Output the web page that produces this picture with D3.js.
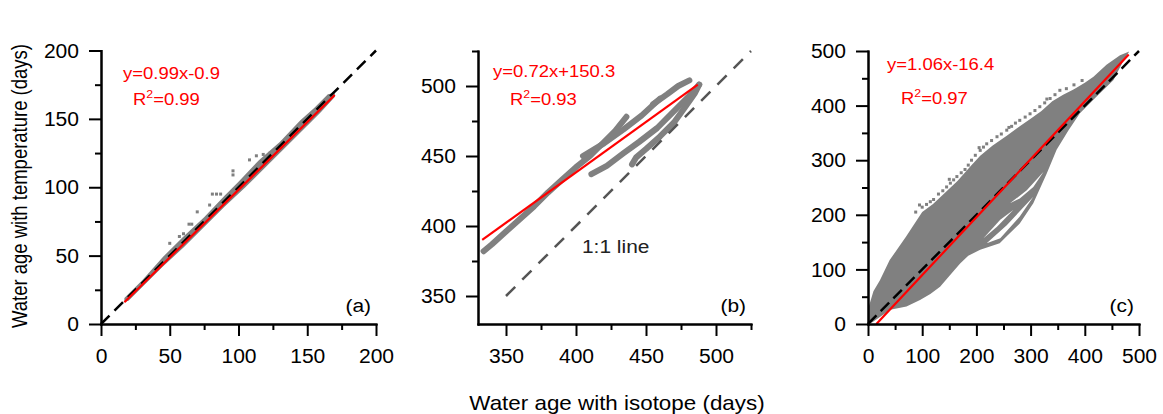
<!DOCTYPE html>
<html>
<head>
<script src="https://d3js.org/d3.v7.min.js"></script>
<style>
  body { margin: 0; background: #fff; }
  text { font-family: "Liberation Sans", Arial, sans-serif; }
</style>
</head>
<body>
<svg id="chart" width="1163" height="414"></svg>
<script>
// ---- data ----
// panel (a): scatter band (upper and lower edge) and stray points
const bandA_upper = [[17,19],[30,32],[45,49],[60,64],[75,78],[90,94],[100,104],[115,120],[130,133],[145,149],[155,158],[165,168],[170,169]];
const bandA_lower = [[170,166],[160,155],[150,145],[135,130],[120,115],[105,100],[90,86],[75,71],[60,56],[45,42],[30,27],[20,17],[17,16]];
const outliersA = [[96,112],[96,109],[108,120],[113,123],[118,124],[81,95],[84,95],[87,95],[79,87],[70,82],[64,73],[66,73],[50,59],[57,64],[60,66],[123,125]];

// panel (b): streaks of points
const streaksB = [
  [[334,382],[340,387],[350,396],[360,405],[370,414],[380,424],[390,433],[400,442],[410,450],[420,460],[428,468],[436,478]],
  [[405,450],[420,459],[434,469],[447,479],[460,491]],
  [[455,487],[465,494],[473,500],[481,504]],
  [[411,437],[422,443],[434,452],[445,460],[458,470],[470,482],[480,492],[488,501]],
  [[440,444],[443,449],[450,455],[460,464],[470,474],[478,485],[485,495],[488,501]]
];

// panel (c): cloud outline, white gaps, scattered points on the upper edge
const cloudC_upper = [[0,0],[1,30],[10,60],[22,80],[40,117],[70,160],[100,205],[120,220],[145,243],[165,262],[190,290],[207,308],[230,327],[256,345],[280,362],[300,376],[320,390],[340,408],[360,420],[380,430],[400,442],[416,453],[440,475],[465,492],[482,499]];
const cloudC_lower = [[482,499],[470,480],[453,447],[420,415],[391,386],[370,355],[348,319],[330,276],[305,221],[280,184],[255,160],[243,148],[207,136],[185,125],[170,111],[150,88],[133,68],[115,55],[96,44],[71,32],[41,26],[22,13],[8,3],[0,0]];
const holesC = [
  [[219,148],[256,181],[305,233],[280,197],[244,157]],
  [[262,221],[293,245],[324,279],[305,251],[280,230]],
  [[213,157],[244,191],[268,209],[238,178]]
];
const speckC = [[100,214],[108,219],[115,224],[121,228],[130,238],[138,244],[145,251],[152,258],[158,264],[164,270],[172,277],[179,283],[185,291],[191,300],[198,309],[207,318],[213,324],[219,330],[228,336],[238,343],[246,348],[256,355],[265,362],[272,368],[280,373],[290,379],[299,385],[308,391],[317,398],[326,405],[336,413],[345,420],[354,428],[366,431],[380,438],[395,446],
  [95,218],[88,205],[150,265],[205,323],[260,360],[330,412]];

// fitted lines (from the printed equations) and their x extent
const fitA = {slope: 0.99, icpt: -0.9, x: [17, 170]};
const fitB = {slope: 0.72, icpt: 150.3, x: [333, 487]};
const fitC = {slope: 1.06, icpt: -16.4, x: [15.5, 481]};

// axis ticks
const ticksA = [0, 50, 100, 150, 200], minorA = [25, 75, 125, 175];
const ticksB = [350, 400, 450, 500], minorB = [375, 425, 475, 525];
const ticksC = [0, 100, 200, 300, 400, 500], minorC = [50, 150, 250, 350, 450];

// ---- drawing ----
const S = 1.1; // the figure's text is a bit wider than Arial
const svg = d3.select("#chart");

const panels = [
  {id: "a", dom: [0, 200], xr: [101, 376], yr: [324, 50.5], ticks: ticksA, minor: minorA, fit: fitA,
   oneLine: [0, 200], dash: "#000", dashArr: "12,7", eq: "y=0.99x-0.9", r2: "0.99",
   eqPos: [22, 79], r2Pos: [32, 105]},
  {id: "b", dom: [330, 525], xr: [478, 751], yr: [324, 51], ticks: ticksB, minor: minorB, fit: fitB,
   oneLine: [350, 525], dash: "#555", dashArr: "13,10", eq: "y=0.72x+150.3", r2: "0.93",
   eqPos: [15, 77], r2Pos: [32, 105]},
  {id: "c", dom: [0, 500], xr: [868, 1139], yr: [324, 51], ticks: ticksC, minor: minorC, fit: fitC,
   oneLine: [0, 500], dash: "#000", dashArr: "12,6", eq: "y=1.06x-16.4", r2: "0.97",
   eqPos: [19, 70], r2Pos: [33, 104]}
];

panels.forEach(p => {
  const x = d3.scaleLinear().domain(p.dom).range(p.xr);
  const y = d3.scaleLinear().domain(p.dom).range(p.yr);
  const g = svg.append("g");
  const line = d3.line().x(d => x(d[0])).y(d => y(d[1]));

  // points
  if (p.id === "a") {
    g.append("path").attr("d", line(bandA_upper.concat(bandA_lower)) + "Z").attr("fill", "#808080");
    g.selectAll("rect.o").data(outliersA).join("rect")
      .attr("x", d => x(d[0]) - 1.5).attr("y", d => y(d[1]) - 1.5)
      .attr("width", 3).attr("height", 3).attr("fill", "#808080");
  }
  if (p.id === "b") {
    streaksB.forEach(s => {
      g.append("path").attr("d", line(s)).attr("fill", "none").attr("stroke", "#808080")
        .attr("stroke-width", 6).attr("stroke-linecap", "round").attr("stroke-linejoin", "round");
    });
  }
  if (p.id === "c") {
    g.append("path").attr("d", line(cloudC_upper.concat(cloudC_lower)) + "Z").attr("fill", "#808080");
    holesC.forEach(h => g.append("path").attr("d", line(h) + "Z").attr("fill", "#fff"));
    g.selectAll("rect.s").data(speckC).join("rect")
      .attr("x", d => x(d[0]) - 1.5).attr("y", d => y(d[1]) - 1.5)
      .attr("width", 3).attr("height", 3).attr("fill", "#808080");
  }

  // 1:1 line
  g.append("line")
    .attr("x1", x(p.oneLine[0])).attr("y1", y(p.oneLine[0]))
    .attr("x2", x(p.oneLine[1])).attr("y2", y(p.oneLine[1]))
    .attr("stroke", p.dash).attr("stroke-width", 2.5).attr("stroke-dasharray", p.dashArr);

  // regression line
  const f = p.fit;
  g.append("line")
    .attr("x1", x(f.x[0])).attr("y1", y(f.slope * f.x[0] + f.icpt))
    .attr("x2", x(f.x[1])).attr("y2", y(f.slope * f.x[1] + f.icpt))
    .attr("stroke", "#f00").attr("stroke-width", 2.2);

  // axes
  const ax = g.append("g").attr("transform", `translate(0,${p.yr[0]})`);
  ax.call(d3.axisBottom(x).tickValues(p.minor).tickSize(6).tickSizeOuter(0).tickFormat(""));
  ax.append("g").call(d3.axisBottom(x).tickValues(p.ticks).tickSize(12).tickSizeOuter(0));
  const ay = g.append("g").attr("transform", `translate(${p.xr[0]},0)`);
  ay.call(d3.axisLeft(y).tickValues(p.minor).tickSize(6).tickSizeOuter(0).tickFormat(""));
  ay.append("g").call(d3.axisLeft(y).tickValues(p.ticks).tickSize(12).tickSizeOuter(0));

  g.selectAll(".domain, .tick line").attr("stroke", "#000").attr("stroke-width", 2);
  g.selectAll(".domain").attr("stroke-linecap", "square");
  ax.selectAll("text").attr("font-size", 19.5).attr("fill", "#000")
    .attr("y", 25).attr("dy", "0.71em").attr("transform", "scale(1.08,1)");
  ay.selectAll("text").attr("font-size", 19.5).attr("fill", "#000")
    .attr("x", -22 / 1.08).attr("dy", "0.34em").attr("transform", "scale(1.08,1)");

  // equation and R2
  g.append("text").attr("transform", `translate(${p.xr[0] + p.eqPos[0]},${p.eqPos[1]}) scale(1.12,1)`)
    .attr("font-size", 16.5).attr("fill", "#f00").text(p.eq);
  const r = g.append("text").attr("transform", `translate(${p.xr[0] + p.r2Pos[0]},${p.r2Pos[1]}) scale(1.12,1)`)
    .attr("font-size", 16.5).attr("fill", "#f00");
  r.append("tspan").text("R");
  r.append("tspan").attr("dy", -7).attr("font-size", 11).text("2");
  r.append("tspan").attr("dy", 7).text("=" + p.r2);

  // panel letter
  g.append("text").attr("transform", `translate(${p.xr[1] - 5},312) scale(${S},1)`)
    .attr("text-anchor", "end").attr("font-size", 19).attr("fill", "#000").text(`(${p.id})`);

  if (p.id === "b") {
    g.append("text").attr("transform", `translate(582,253) scale(${S},1)`)
      .attr("font-size", 19).attr("fill", "#222").text("1:1 line");
  }
});

// shared axis titles
svg.append("text").attr("transform", "translate(617,410) scale(1.12,1)")
  .attr("text-anchor", "middle").attr("font-size", 20).attr("fill", "#000")
  .text("Water age with isotope (days)");
svg.append("text").attr("transform", "translate(27,186) scale(1.15,1) rotate(-90)")
  .attr("text-anchor", "middle").attr("font-size", 18.5).attr("fill", "#000")
  .text("Water age with temperature (days)");
</script>
</body>
</html>
